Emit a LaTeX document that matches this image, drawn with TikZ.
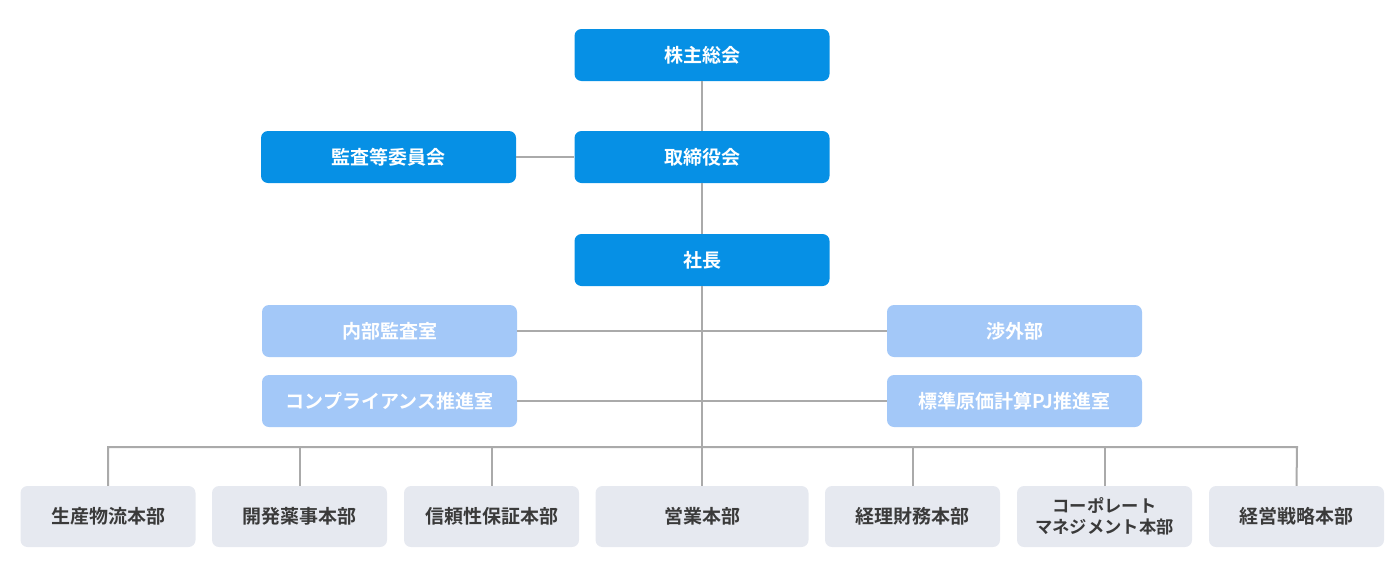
\documentclass[tikz,border=0pt]{standalone}
\usepackage{fontspec}
\setmainfont{Noto Sans CJK JP}[BoldFont={* Bold}]
\definecolor{dblue}{HTML}{0690E5}
\definecolor{lblue}{HTML}{A3C8F8}
\definecolor{lgray}{HTML}{E6E9F0}
\definecolor{txtgray}{HTML}{3A3A3A}
\definecolor{linegray}{HTML}{AAAAAA}
\tikzset{
  topbox/.style={fill=dblue, rounded corners=7pt, minimum width=255pt, minimum height=52pt, text=white, font=\bfseries\fontsize{19}{22}\selectfont, inner sep=0pt},
  subbox/.style={fill=lblue, rounded corners=7pt, minimum width=255pt, minimum height=52pt, text=white, font=\bfseries\fontsize{19}{22}\selectfont, inner sep=0pt},
  deptbox/.style={fill=lgray, rounded corners=7pt, minimum width=175pt, minimum height=61pt, text=txtgray, font=\bfseries\fontsize{19}{22}\selectfont, inner sep=0pt, align=center},
  conn/.style={draw=linegray, line width=2pt}
}
\begin{document}
\begin{tikzpicture}[x=1pt,y=-1pt]
\useasboundingbox (0,0) rectangle (1398,584);
\coordinate (busL) at (108,447);
\coordinate (busR) at (1297,447);
\coordinate (busM) at (702,447);
\node[topbox] (gm) at (702,55) {株主総会};
\node[topbox] (board) at (702,157) {取締役会};
\node[topbox] (audit) at (388.5,157) {監査等委員会};
\node[topbox] (pres) at (702,260) {社長};
\node[subbox] (internal) at (389.5,331) {内部監査室};
\node[subbox] (legal) at (1014.5,331) {渉外部};
\node[subbox] (comp) at (389.5,401) {コンプライアンス推進室};
\node[subbox] (pj) at (1014.5,401) {標準原価計算PJ推進室};
\node[deptbox] (d1) at (108,516.5) {生産物流本部};
\node[deptbox] (d2) at (299.5,516.5) {開発薬事本部};
\node[deptbox] (d3) at (491.5,516.5) {信頼性保証本部};
\node[deptbox, minimum width=213pt] (d4) at (702,516.5) {営業本部};
\node[deptbox] (d5) at (912.5,516.5) {経理財務本部};
\node[deptbox, font=\bfseries\fontsize{17.3}{21}\selectfont] (d6) at (1104.5,516.5) {コーポレート\\マネジメント本部};
\node[deptbox] (d7) at (1296.5,516.5) {経営戦略本部};
\draw[conn] (gm.south) -- (board.north);
\draw[conn] (audit.east) -- (board.west);
\draw[conn] (board.south) -- (pres.north);
\draw[conn] (pres.south) -- (d4.north);
\draw[conn] (internal.east) -- (legal.west);
\draw[conn] (comp.east) -- (pj.west);
\draw[conn] (d1.north) -- (busL) -- (busR) -- (d7.north);
\draw[conn] (d2.north |- busL) -- (d2.north);
\draw[conn] (d3.north |- busL) -- (d3.north);
\draw[conn] (d5.north |- busL) -- (d5.north);
\draw[conn] (d6.north |- busL) -- (d6.north);
\end{tikzpicture}
\end{document}
